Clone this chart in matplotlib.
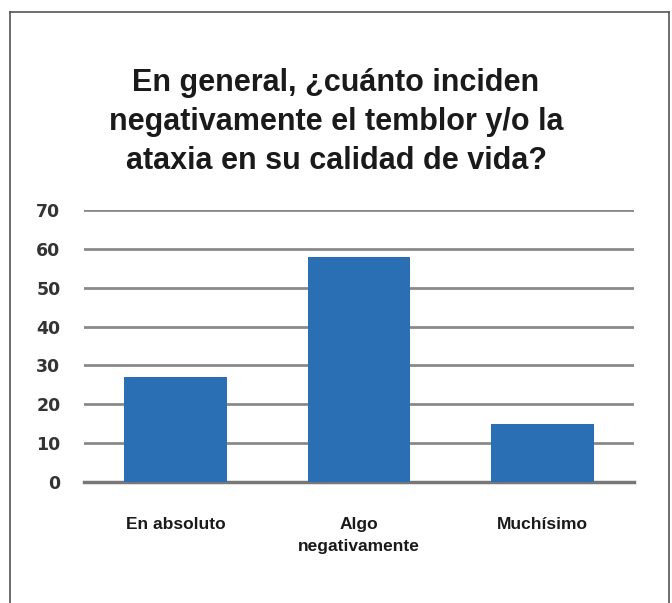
import matplotlib
matplotlib.use("Agg")
import matplotlib.pyplot as plt
from matplotlib.lines import Line2D

categories = ["En absoluto", "Algo\nnegativamente", "Muchísimo"]
values = [27, 58, 15]
yticks = [0, 10, 20, 30, 40, 50, 60, 70]

W, H = 672, 603
fig = plt.figure(figsize=(W / 100, H / 100), dpi=100)
fig.patch.set_facecolor("white")

# frame (left, top, right)
x0, x1, yt = 10 / W, 669 / W, 1 - 12 / H
for xs, ys in [([x0, x0], [0, yt]), ([x0, x1], [yt, yt]), ([x1, x1], [yt, 0])]:
    fig.add_artist(Line2D(xs, ys, transform=fig.transFigure, color="#555555", lw=1.2))

ax = fig.add_axes([84 / W, 1 - 482 / H, (634 - 84) / W, (482 - 210) / H])
ax.bar(range(len(values)), values, width=0.56, color="#2a6fb4", zorder=3)
ax.set_xlim(-0.5, 2.5)
ax.set_ylim(0, 70)
ax.set_yticks(yticks)
ax.set_yticklabels([str(v) for v in yticks], fontsize=12.5, fontweight="bold",
                   color="#333333", family="DejaVu Sans")
ax.yaxis.grid(True, color="#8a8a8a", lw=2, zorder=0)
ax.set_axisbelow(True)
ax.tick_params(axis="y", length=0, pad=17)
ax.tick_params(axis="x", length=0, pad=25)
ax.set_xticks(range(len(values)))
ax.set_xticklabels(categories, fontsize=12.5, fontweight="bold", color="#1a1a1a",
                   family="Liberation Sans", linespacing=1.6, va="top")
for s in ax.spines.values():
    s.set_visible(False)
ax.axhline(0, color="#777777", lw=2.5, zorder=1, clip_on=False)

fig.text(0.5, 1 - 122 / H,
         "En general, ¿cuánto inciden\nnegativamente el temblor y/o la\nataxia en su calidad de vida?",
         ha="center", va="center", fontsize=22, fontweight="bold", family="Liberation Sans",
         color="#1a1a1a", linespacing=1.39)

fig.savefig("out.png", dpi=100, facecolor="white")
